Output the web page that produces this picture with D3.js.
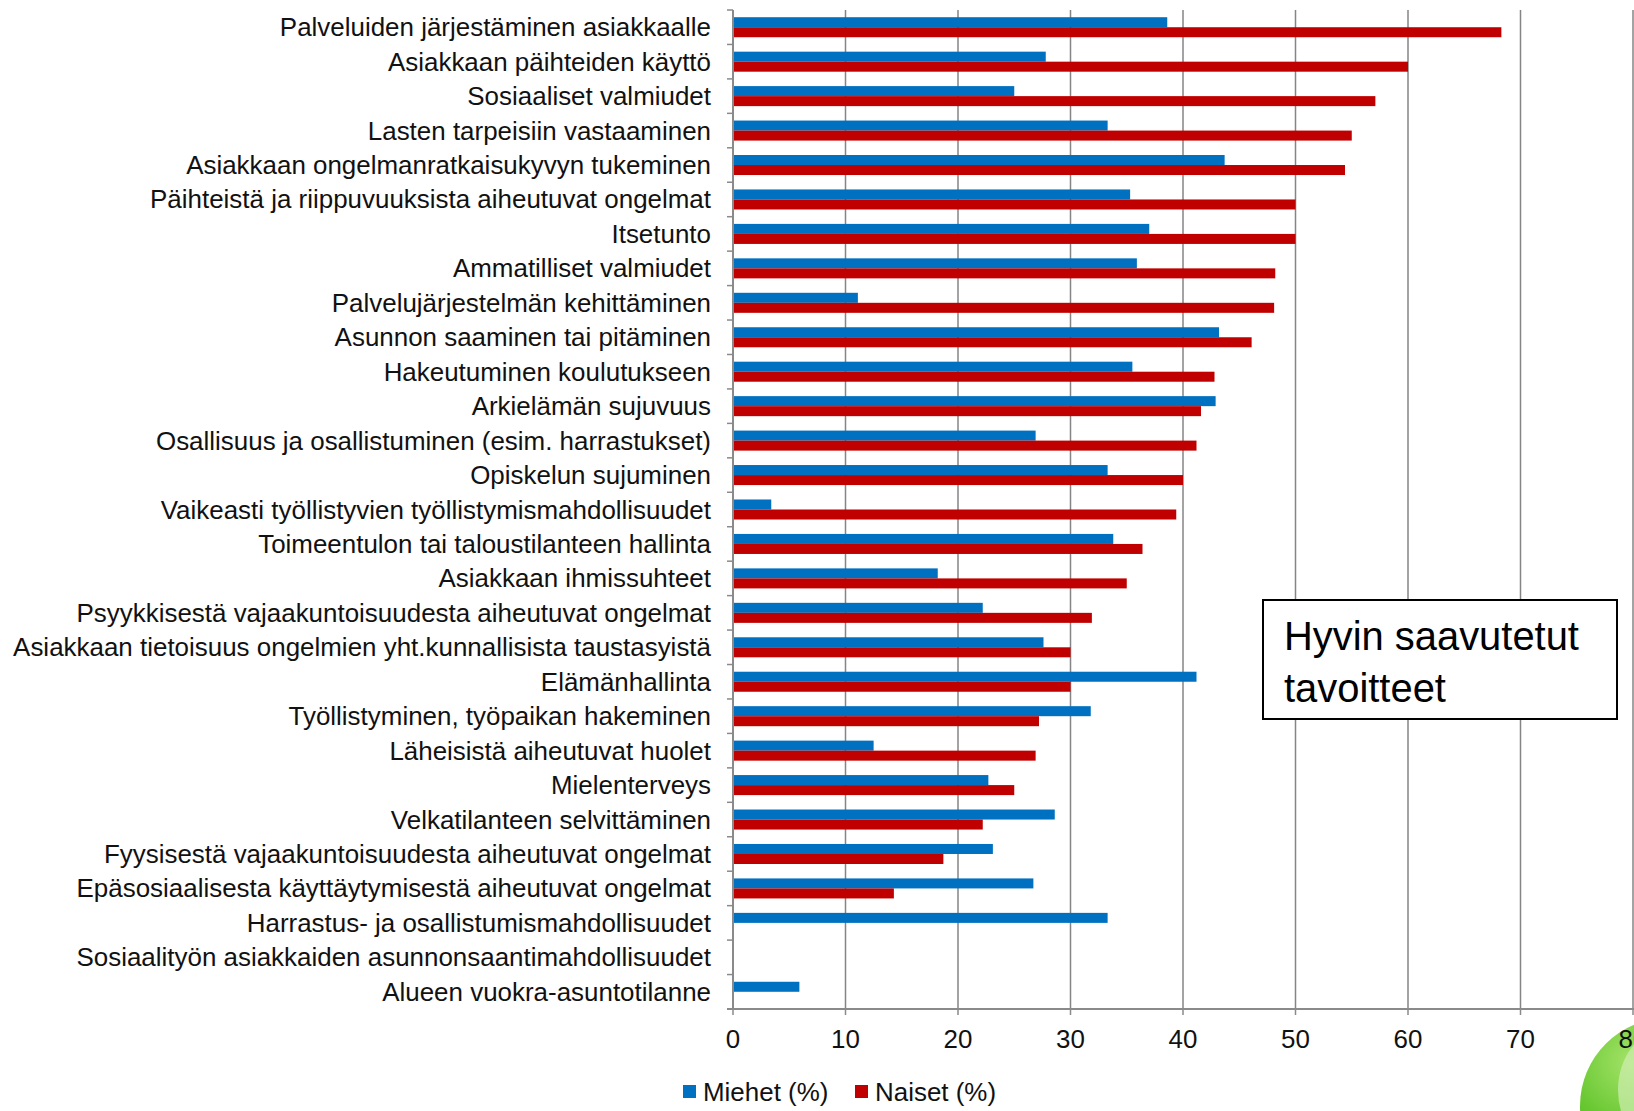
<!DOCTYPE html>
<html>
<head>
<meta charset="utf-8">
<script src="https://cdn.jsdelivr.net/npm/d3@7"></script>
<style>
  html, body { margin: 0; padding: 0; background: #fff; }
  svg { display: block; font-family: "Liberation Sans", Arial, sans-serif; }
</style>
</head>
<body>
<svg id="chart" width="1634" height="1111"></svg>
<script>
// Categories, top to bottom
const categories = [
    'Palveluiden järjestäminen asiakkaalle',
    'Asiakkaan päihteiden käyttö',
    'Sosiaaliset valmiudet',
    'Lasten tarpeisiin vastaaminen',
    'Asiakkaan ongelmanratkaisukyvyn tukeminen',
    'Päihteistä ja riippuvuuksista aiheutuvat ongelmat',
    'Itsetunto',
    'Ammatilliset valmiudet',
    'Palvelujärjestelmän kehittäminen',
    'Asunnon saaminen tai pitäminen',
    'Hakeutuminen koulutukseen',
    'Arkielämän sujuvuus',
    'Osallisuus ja osallistuminen (esim. harrastukset)',
    'Opiskelun sujuminen',
    'Vaikeasti työllistyvien työllistymismahdollisuudet',
    'Toimeentulon tai taloustilanteen hallinta',
    'Asiakkaan ihmissuhteet',
    'Psyykkisestä vajaakuntoisuudesta aiheutuvat ongelmat',
    'Asiakkaan tietoisuus ongelmien yht.kunnallisista taustasyistä',
    'Elämänhallinta',
    'Työllistyminen, työpaikan hakeminen',
    'Läheisistä aiheutuvat huolet',
    'Mielenterveys',
    'Velkatilanteen selvittäminen',
    'Fyysisestä vajaakuntoisuudesta aiheutuvat ongelmat',
    'Epäsosiaalisesta käyttäytymisestä aiheutuvat ongelmat',
    'Harrastus- ja osallistumismahdollisuudet',
    'Sosiaalityön asiakkaiden asunnonsaantimahdollisuudet',
    'Alueen vuokra-asuntotilanne'
];

// Miehet (%)
const miehet = [38.6, 27.8, 25.0, 33.3, 43.7, 35.3, 37.0, 35.9, 11.1, 43.2,
    35.5, 42.9, 26.9, 33.3, 3.4, 33.8, 18.2, 22.2, 27.6, 41.2,
    31.8, 12.5, 22.7, 28.6, 23.1, 26.7, 33.3, 0, 5.9];

// Naiset (%)
const naiset = [68.3, 60.0, 57.1, 55.0, 54.4, 50.0, 50.0, 48.2, 48.1, 46.1,
    42.8, 41.6, 41.2, 40.0, 39.4, 36.4, 35.0, 31.9, 30.0, 30.0,
    27.2, 26.9, 25.0, 22.2, 18.7, 14.3, 0, 0, 0];

const xTicks = [0, 10, 20, 30, 40, 50, 60, 70, 80];
const seriesNames = ['Miehet (%)', 'Naiset (%)'];
const seriesColors = ['#0070C0', '#C00000'];
const boxLines = ['Hyvin saavutetut', 'tavoitteet'];

const svg = d3.select('#chart');
const plot = { left: 733, right: 1633, top: 10, bottom: 1009 };

const x = d3.scaleLinear().domain([0, 80]).range([plot.left, plot.right]);
const y0 = d3.scaleBand().domain(categories).range([plot.top, plot.bottom]);
const y1 = d3.scaleBand().domain([0, 1]).range([0, y0.bandwidth()]).paddingOuter(0.72);

// Vertical gridlines
svg.append('g')
    .selectAll('line')
    .data(xTicks.slice(1))
    .join('line')
    .attr('x1', d => x(d)).attr('x2', d => x(d))
    .attr('y1', plot.top).attr('y2', plot.bottom)
    .attr('stroke', '#858585')
    .attr('stroke-width', 1.5);

// Bars
const rows = categories.map((c, i) => ({ cat: c, vals: [miehet[i], naiset[i]] }));
const groups = svg.append('g')
    .selectAll('g')
    .data(rows)
    .join('g')
    .attr('transform', d => `translate(0,${y0(d.cat)})`);

groups.selectAll('rect')
    .data(d => d.vals.map((v, k) => ({ v, k })))
    .join('rect')
    .attr('x', x(0))
    .attr('y', d => y1(d.k))
    .attr('height', y1.bandwidth())
    .attr('width', d => x(d.v) - x(0))
    .attr('fill', d => seriesColors[d.k]);

// Left axis line with ticks on band boundaries
const axisColor = '#8a8a8a';
svg.append('line')
    .attr('x1', x(0)).attr('x2', x(0))
    .attr('y1', plot.top).attr('y2', plot.bottom)
    .attr('stroke', axisColor).attr('stroke-width', 2);

const boundaries = categories.map(c => y0(c));
svg.append('g')
    .selectAll('line')
    .data(boundaries)
    .join('line')
    .attr('x1', x(0) - 6).attr('x2', x(0))
    .attr('y1', d => d).attr('y2', d => d)
    .attr('stroke', axisColor).attr('stroke-width', 1.5);

// Bottom axis
svg.append('line')
    .attr('x1', x(0) - 6).attr('x2', plot.right + 1)
    .attr('y1', plot.bottom).attr('y2', plot.bottom)
    .attr('stroke', axisColor).attr('stroke-width', 2);

svg.append('g')
    .selectAll('line')
    .data(xTicks)
    .join('line')
    .attr('x1', d => x(d)).attr('x2', d => x(d))
    .attr('y1', plot.bottom).attr('y2', plot.bottom + 6)
    .attr('stroke', axisColor).attr('stroke-width', 1.5);

// Category labels, squeezed a little like the original
const labels = svg.append('g')
    .selectAll('text')
    .data(categories)
    .join('text')
    .attr('text-anchor', 'end')
    .attr('dominant-baseline', 'central')
    .attr('font-size', 26)
    .attr('fill', '#111')
    .text(d => d);

const longest = d3.max(labels.nodes(), n => n.getComputedTextLength());
const squeeze = 698 / longest;
labels.attr('transform', d => `translate(711,${y0(d) + y0.bandwidth() / 2}) scale(${squeeze},1)`);

// Green decoration in the corner (drawn before tick labels so "80" stays on top)
const defs = svg.append('defs');
const grad = defs.append('radialGradient').attr('id', 'green')
    .attr('cx', '30%').attr('cy', '25%').attr('r', '80%');
grad.append('stop').attr('offset', '0%').attr('stop-color', '#a6e36a');
grad.append('stop').attr('offset', '50%').attr('stop-color', '#62c52c');
grad.append('stop').attr('offset', '100%').attr('stop-color', '#3a9a18');
svg.append('circle')
    .attr('cx', 1668).attr('cy', 1106).attr('r', 88)
    .attr('fill', 'url(#green)');
svg.append('ellipse')
    .attr('cx', 1668).attr('cy', 1090).attr('rx', 50).attr('ry', 62)
    .attr('fill', '#cfeeb0').attr('opacity', 0.7);

// X tick labels
svg.append('g')
    .selectAll('text')
    .data(xTicks)
    .join('text')
    .attr('transform', d => `translate(${x(d)},1039) scale(${squeeze},1)`)
    .attr('text-anchor', 'middle')
    .attr('dominant-baseline', 'central')
    .attr('font-size', 26)
    .attr('fill', '#111')
    .text(d => d);

// Legend
const legend = svg.append('g').attr('transform', 'translate(683,1092)');
const legendX = [0, 172];
seriesNames.forEach((name, k) => {
    legend.append('rect')
        .attr('x', legendX[k]).attr('y', -7)
        .attr('width', 13).attr('height', 13)
        .attr('fill', seriesColors[k]);
    legend.append('text')
        .attr('transform', `translate(${legendX[k] + 20},0) scale(${squeeze},1)`)
        .attr('dominant-baseline', 'central')
        .attr('font-size', 26)
        .attr('fill', '#111')
        .text(name);
});

// Annotation box
svg.append('rect')
    .attr('x', 1263).attr('y', 600)
    .attr('width', 354).attr('height', 119)
    .attr('fill', '#fff')
    .attr('stroke', '#000')
    .attr('stroke-width', 2);

svg.append('g')
    .selectAll('text')
    .data(boxLines)
    .join('text')
    .attr('transform', (d, i) => `translate(1284,${636 + i * 52}) scale(${squeeze},1)`)
    .attr('dominant-baseline', 'central')
    .attr('font-size', 40)
    .attr('fill', '#000')
    .text(d => d);
</script>
</body>
</html>
